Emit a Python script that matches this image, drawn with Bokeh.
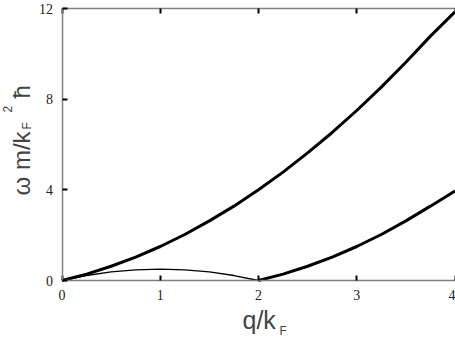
import numpy as np
from bokeh.plotting import figure
from bokeh.models import Range1d, LinearAxis, FixedTicker, Label
from bokeh.embed import file_html
from bokeh.resources import INLINE

# data
q_upper = [0, 0.25, 0.5, 0.75, 1.0, 1.25, 1.5, 1.75, 2.0, 2.25, 2.5, 2.75, 3.0, 3.25, 3.5, 3.75, 4.0]
w_upper = [0, 0.28, 0.63, 1.03, 1.5, 2.03, 2.63, 3.28, 4.0, 4.78, 5.63, 6.53, 7.5, 8.53, 9.63, 10.78, 11.85]
q_lower = [2.0, 2.25, 2.5, 2.75, 3.0, 3.25, 3.5, 3.75, 4.0]
w_lower = [0, 0.28, 0.63, 1.03, 1.5, 2.03, 2.63, 3.28, 3.95]
q_thin = [0, 0.25, 0.5, 0.75, 1.0, 1.25, 1.5, 1.75, 2.0]
w_thin = [0, 0.22, 0.38, 0.47, 0.5, 0.47, 0.38, 0.22, 0]
x_ticks = [0, 1, 2, 3, 4]
y_ticks = [0, 4, 8, 12]
x_min, x_max = 0, 4
y_min, y_max = 0, 12

W, H = 455, 339
left_px, right_px, top_px, bottom_px = 61.5, 454.5, 8.0, 280.0
sx = (right_px - left_px) / (x_max - x_min)
sy = (bottom_px - top_px) / (y_max - y_min)

def dx(px):
    return x_min + (px - left_px) / sx

def dy(py):
    return y_min + (bottom_px - py) / sy

p = figure(width=W, height=H, output_backend="svg", toolbar_location=None,
           x_range=Range1d(dx(0), dx(W)), y_range=Range1d(dy(H), dy(0)),
           min_border=0, x_axis_location=None, y_axis_location=None)
p.grid.visible = False
p.outline_line_color = None
p.background_fill_color = "white"
p.border_fill_color = "white"

def make_axis(ticks, loc, bounds, labels=True):
    ax = LinearAxis(fixed_location=loc, bounds=bounds)
    ax.ticker = FixedTicker(ticks=ticks)
    ax.major_tick_in = 5
    ax.major_tick_out = 0
    ax.minor_tick_in = 0
    ax.minor_tick_out = 0
    ax.major_tick_line_color = "black"
    ax.major_tick_line_width = 2
    ax.axis_line_color = "#808080"
    ax.axis_line_width = 1.5
    ax.major_label_text_font = "Liberation Serif"
    ax.major_label_text_font_size = "14px"
    ax.major_label_text_color = "#222222"
    ax.major_label_standoff = 9
    if not labels:
        ax.major_label_text_color = None
    return ax

p.add_layout(make_axis(x_ticks, y_min, (x_min, x_max)), "below")
p.add_layout(make_axis(y_ticks, x_min, (y_min, y_max)), "left")
p.add_layout(make_axis(x_ticks, y_max, (x_min, x_max), labels=False), "above")

p.line(q_upper, w_upper, line_color="black", line_width=3)
p.line(q_lower, w_lower, line_color="black", line_width=3)
p.line(q_thin, w_thin, line_color="black", line_width=1.3)

font = "Liberation Sans"
shift = 0.4  # empirical anchor offset (in em) of Label text
# x axis label q/k_F   (px, baseline py, text, size)
for px, py, t, fs in [(242, 329, "q/k", 25), (279, 335, "F", 12)]:
    p.add_layout(Label(x=dx(px), y=dy(py - shift * fs), text=t, text_font=font,
                       text_font_size=f"{fs}px", text_baseline="alphabetic", text_align="left"))
# y axis label  ω m/k_F^2 ħ (rotated; px is the baseline column)
ang = np.pi / 2
for px, py, t, fs in [(31, 195, "ω m/k", 24), (31.5, 129, "F", 12),
                      (12, 112, "2", 12), (30.5, 98, "ħ", 24)]:
    p.add_layout(Label(x=dx(px - shift * fs), y=dy(py), text=t, text_font=font,
                       text_font_size=f"{fs}px", text_baseline="alphabetic",
                       text_align="left", angle=ang))

open("out.html", "w").write(file_html(p, INLINE))
